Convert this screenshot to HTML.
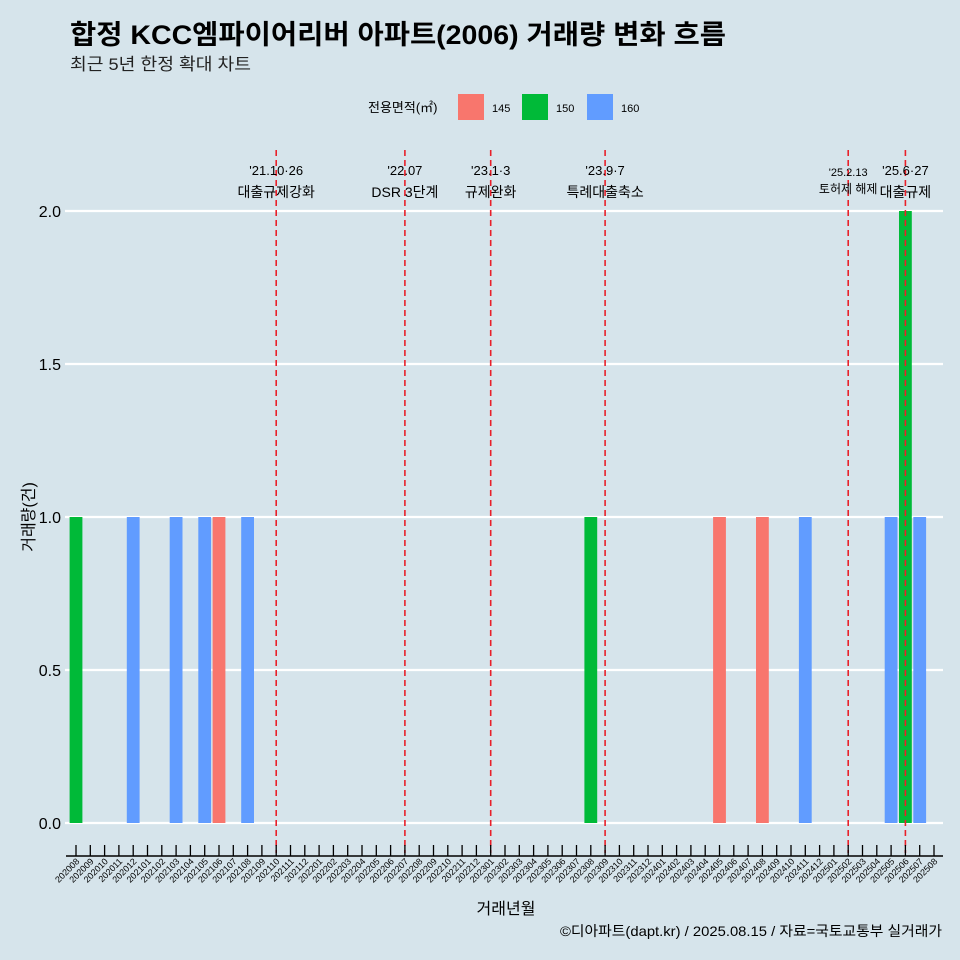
<!DOCTYPE html>
<html><head><meta charset="utf-8"><style>
body{margin:0;background:#d6e4eb;}
svg{display:block;font-family:"Liberation Sans","Noto Sans CJK KR",sans-serif;}
</style></head><body>
<svg id="c" width="960" height="960" viewBox="0 0 960 960">
<rect width="960" height="960" fill="#d6e4eb"/>
<text x="70" y="44" font-size="27" font-weight="bold" fill="#000" textLength="656" lengthAdjust="spacingAndGlyphs">합정 KCC엠파이어리버 아파트(2006) 거래량 변화 흐름</text>
<text x="70" y="70" font-size="17" fill="#222" textLength="181" lengthAdjust="spacingAndGlyphs">최근 5년 한정 확대 차트</text>
<g>
<text x="368" y="112" font-size="13">전용면적(㎡)</text>
<rect x="458" y="94" width="26" height="26" fill="#f8766d"/>
<text x="492" y="112" font-size="11">145</text>
<rect x="522" y="94" width="26" height="26" fill="#00ba38"/>
<text x="556" y="112" font-size="11">150</text>
<rect x="587" y="94" width="26" height="26" fill="#619cff"/>
<text x="621" y="112" font-size="11">160</text>
</g>
<g id="grid"></g><g id="bars"></g><g id="ann"></g><g id="xaxis"></g>
<text x="0" y="0" font-size="16" text-anchor="middle" transform="translate(34,517) rotate(-90)">거래량(건)</text>
<text x="506" y="914" font-size="16" text-anchor="middle">거래년월</text>
<text x="942" y="936" font-size="14" text-anchor="end" textLength="382" lengthAdjust="spacingAndGlyphs">©디아파트(dapt.kr) / 2025.08.15 / 자료=국토교통부 실거래가</text>
</svg>
<script>
const months=[];for(let y=2020;y<=2025;y++)for(let m=1;m<=12;m++){const k=y*100+m;if(k>=202008&&k<=202508)months.push(String(k));}
const barMonths=["202008","202012","202103","202105","202106","202108","202308","202405","202408","202411","202505","202506","202507"];
const barSizes=["150","160","160","160","145","160","150","145","145","160","160","150","160"];
const barValues=[1,1,1,1,1,1,1,1,1,1,1,2,1];
const yTicks=[0,0.5,1,1.5,2];
const yTickLabels=["0.0","0.5","1.0","1.5","2.0"];
const annMonths=["202110","202207","202301","202309","202502","202506"];
const annLine1=["'21.10·26","'22.07","'23.1·3","'23.9·7","'25.2.13","'25.6·27"];
const annLine2=["대출규제강화","DSR 3단계","규제완화","특례대출축소","토허제 해제","대출규제"];
const colors={"145":"#f8766d","150":"#00ba38","160":"#619cff"};
const NS="http://www.w3.org/2000/svg";
const x0=76,step=14.3,y0=823,yk=306;
const X=m=>x0+months.indexOf(m)*step;
const Y=v=>y0-v*yk;
function mk(t,a,p){const e=document.createElementNS(NS,t);for(const k in a)e.setAttribute(k,a[k]);p.appendChild(e);return e;}
const grid=document.getElementById('grid');
yTicks.forEach((v,i)=>{
 const l=mk('line',{x1:65,x2:943,y1:Y(v),y2:Y(v),stroke:'#fff','stroke-width':2.2},grid);
 
 
 const t=mk('text',{x:61,y:Y(v)+6,'font-size':16,'text-anchor':'end'},grid);
 t.textContent=yTickLabels[i];
 
 
});
const bars=document.getElementById('bars');
barMonths.forEach((m,i)=>{
 const r=mk('rect',{x:X(m)-6.4,y:Y(barValues[i]),width:12.8,height:barValues[i]*yk,fill:colors[barSizes[i]]},bars);
 
 
});
const ann=document.getElementById('ann');
annMonths.forEach((m,i)=>{
 const x=X(m);
 const l=mk('line',{x1:x,x2:x,y1:150,y2:853,stroke:'#e8202a','stroke-width':1.6,'stroke-dasharray':'6 4'},ann);
 
 
 const small=i===4;
 const t1=mk('text',{x:x,y:small?176:175,'font-size':small?11:13,'text-anchor':'middle'},ann);
 t1.textContent=annLine1[i];
 
 
 const t2=mk('text',{x:x,y:small?193:197,'font-size':small?12:14,'text-anchor':'middle'},ann);
 t2.textContent=annLine2[i];
 
 
});
const xa=document.getElementById('xaxis');
const ax=mk('line',{x1:66,x2:943,y1:856,y2:856,stroke:'#000','stroke-width':1.4},xa);


months.forEach(m=>{
 const x=X(m);
 const tk=mk('line',{x1:x,x2:x,y1:845,y2:856,stroke:'#000','stroke-width':1.3},xa);
 
 
 const t=mk('text',{x:0,y:0,'font-size':9,'text-anchor':'end',transform:`translate(${x+4},${862}) rotate(-45)`},xa);
 t.textContent=m;
 
 
});
</script>
</body></html>
